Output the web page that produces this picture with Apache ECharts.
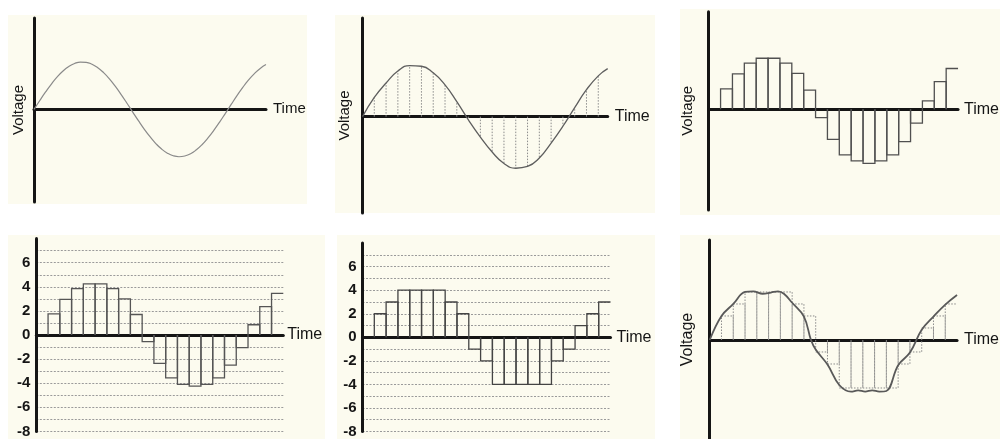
<!DOCTYPE html>
<html><head><meta charset="utf-8">
<script src="https://cdn.jsdelivr.net/npm/echarts@6/dist/echarts.min.js"></script>
<style>html,body{margin:0;padding:0;background:#fff}#c{width:1000px;height:439px}</style>
</head><body><div id="c"></div>
<script>
// ---- Data ----
// Panel 1: continuous analog signal
const p1Time = [0,0.5,1,1.5,2,2.5,3,3.5,4,4.5,5,5.5,6,6.5,7,7.5,8,8.5,9,9.5,10,10.5,11,11.5,12,12.5,13,13.5,14,14.5,15,15.5,16,16.5,17,17.5,18,18.5,19,19.5,20];
const p1Volt = [0,0.74,1.45,2.11,2.7,3.19,3.57,3.82,3.94,3.92,3.76,3.47,3.06,2.54,1.93,1.25,0.53,-0.21,-0.94,-1.64,-2.28,-2.85,-3.31,-3.65,-3.87,-3.95,-3.89,-3.7,-3.37,-2.93,-2.38,-1.75,-1.06,-0.33,0.41,1.14,1.83,2.45,2.98,3.41,3.73];
// Panel 2: analog signal with sample instants
const p2Time = [0,1,2,3,4,5,6,7,8,9,10,11,12,13,14,15,16,17,18,19,20,20.8];
const p2Volt = [0,1.6,2.8,3.8,4.25,4.2,3.65,2.65,1.25,-0.3,-1.7,-2.95,-3.9,-4.3,-4.15,-3.45,-2.2,-0.8,0.75,2.25,3.4,4.0];
const p2SampleTime = [1,2,3,4,5,6,7,8,9,10,11,12,13,14,15,16,17,18,19,20];
// Sample instants used by the sample-and-hold panels
const sampleTime = [0,1,2,3,4,5,6,7,8,9,10,11,12,13,14,15,16,17,18,19,20];
// Panel 3: sample-and-hold values
const p3Volt = [0,1.7,2.95,3.85,4.25,4.25,3.85,3.0,1.6,-0.7,-2.5,-3.8,-4.3,-4.5,-4.3,-3.8,-2.7,-1.15,0.7,2.3,3.4];
// Panel 4: sample-and-hold values on a voltage grid
const p4Volt = [0,1.75,2.95,3.85,4.25,4.25,3.85,3.0,1.7,-0.55,-2.35,-3.55,-4.1,-4.25,-4.1,-3.55,-2.5,-1.05,0.85,2.35,3.45];
// Panel 5: quantized values
const p5Volt = [0,2,3,4,4,4,4,3,2,-1,-2,-4,-4,-4,-4,-4,-2,-1,1,2,3];
// Panel 6: quantized steps and reconstructed signal
const p6StepVolt = [0,2,3,4,4,4,4,3,2,-1,-2,-4,-4,-4,-4,-4,-2,-1,1,2,3];
const p6CurveTime = [0,1,2,3,3.7,4.5,5.2,5.8,6.3,7,8,8.6,9,10,11,12,12.6,13.2,13.8,14.4,15,16,17,18,19,20,21];
const p6CurveVolt = [0,2.0,3.0,4.0,4.05,3.85,3.95,4.05,3.85,3.1,1.95,0,-0.8,-2.05,-3.75,-4.3,-4.2,-4.3,-4.2,-4.3,-4.25,-2.1,-1.05,0.85,1.95,2.95,3.75];
// Tick labels on the voltage grids
const yTickLabels = ['-8','-6','-4','-2','0','2','4','6'];
const xName = 'Time';
const yName = 'Voltage';

// ---- Helpers ----
const FONT = '"Liberation Sans", Arial, sans-serif';
const INK = '#151515';
const BG = '#fcfbef';

function stepData(times, vals) {
  const n = times.length, d = times[1] - times[0];
  return times.map((t, i) => [t, vals[i], i < n - 1 ? times[i + 1] : t + d, i === n - 1 ? 1 : 0]);
}
function stepRender(stroke, width, dash) {
  return function (params, api) {
    const t = api.value(0), v = api.value(1), tn = api.value(2), last = api.value(3);
    if (v === 0) return;
    const a = api.coord([t, 0]), b = api.coord([t, v]), c = api.coord([tn, v]), d = api.coord([tn, 0]);
    const pts = last ? [a, b, c] : [a, b, c, d];
    return { type: 'polyline', shape: { points: pts },
      style: { fill: null, stroke: stroke, lineWidth: width, lineDash: dash || null } };
  };
}
function stickRender(stroke, width, dash) {
  return function (params, api) {
    const t = api.value(0), v = api.value(1);
    const a = api.coord([t, 0]), b = api.coord([t, v]);
    return { type: 'line', shape: { x1: a[0], y1: a[1], x2: b[0], y2: b[1] },
      style: { stroke: stroke, lineWidth: width, lineDash: dash || null } };
  };
}
function xAx(gi, max, gap, fs) {
  return { type: 'value', gridIndex: gi, min: 0, max: max, name: xName, nameLocation: 'end', nameGap: gap,
    nameTextStyle: { fontFamily: FONT, fontSize: fs, color: INK },
    axisLine: { show: true, onZero: true, lineStyle: { color: INK, width: 3 } },
    axisTick: { show: false }, axisLabel: { show: false }, splitLine: { show: false } };
}
function yAx(gi, min, max, opts) {
  const o = { type: 'value', gridIndex: gi, min: min, max: max,
    axisLine: { show: true, onZero: false, lineStyle: { color: INK, width: 3 } },
    axisTick: { show: false }, axisLabel: { show: false }, splitLine: { show: false } };
  if (opts.name) {
    o.name = yName; o.nameLocation = 'middle'; o.nameRotate = 90; o.nameGap = opts.gap;
    o.nameTextStyle = { fontFamily: FONT, fontSize: opts.fs, color: INK };
  }
  if (opts.grid) {
    o.interval = 1;
    o.axisLabel = { show: true, margin: 6, fontFamily: FONT, fontSize: 15, fontWeight: 'bold', color: INK,
      formatter: v => (yTickLabels.indexOf(String(v)) >= 0 ? String(v) : '') };
    o.splitLine = { show: true, showMaxLine: false, showMinLine: true,
      lineStyle: { color: '#9a9a9a', width: 1, type: [2, 1.5] } };
  }
  return o;
}
function pairs(xs, ys) { return xs.map((x, i) => [x, ys[i]]); }
function lookup(xs, ys, t) { return ys[xs.indexOf(t)]; }

const chart = echarts.init(document.getElementById('c'), null, { renderer: 'canvas' });

const bgRects = [
  [8, 15, 299, 189], [335, 15, 320, 198], [680, 9, 320, 206],
  [8, 235, 317, 204], [337, 235, 318, 204], [680, 235, 320, 204]
].map(r => ({ type: 'rect', z: -100, silent: true, shape: { x: r[0], y: r[1], width: r[2], height: r[3] }, style: { fill: BG } }));

chart.setOption({
  backgroundColor: '#ffffff',
  animation: false,
  graphic: { elements: bgRects },
  grid: [
    { left: 34, top: 18, width: 232, height: 184 },
    { left: 362.5, top: 18, width: 245.2, height: 195 },
    { left: 708.7, top: 11.7, width: 252.6, height: 198.3 },
    { left: 36.3, top: 238.6, width: 247, height: 192.8 },
    { left: 362.5, top: 243.1, width: 248, height: 190.4 },
    { left: 709.7, top: 240, width: 251.6, height: 199 }
  ],
  xAxis: [
    xAx(0, 20, 7, 15), xAx(1, 20.8, 7, 16), xAx(2, 21, 6, 16),
    xAx(3, 21, 4, 16), xAx(4, 21, 6, 16), xAx(5, 21, 7, 16)
  ],
  yAxis: [
    yAx(0, -7.72, 7.61, { name: true, gap: 8, fs: 15 }),
    yAx(1, -8.03, 8.22, { name: true, gap: 10, fs: 15 }),
    yAx(2, -8.39, 8.13, { name: true, gap: 13, fs: 15 }),
    yAx(3, -8, 8, { grid: true }),
    yAx(4, -8, 8, { grid: true }),
    yAx(5, -8.25, 8.33, { name: true, gap: 14, fs: 16 })
  ],
  series: [
    { type: 'line', xAxisIndex: 0, yAxisIndex: 0, data: pairs(p1Time, p1Volt), smooth: true, showSymbol: false,
      lineStyle: { color: '#8a8a8a', width: 1.2 } },
    { type: 'custom', xAxisIndex: 1, yAxisIndex: 1, renderItem: stickRender('#8c8c8c', 1, [1.5, 1.5]),
      data: p2SampleTime.map(t => [t, lookup(p2Time, p2Volt, t)]) },
    { type: 'line', xAxisIndex: 1, yAxisIndex: 1, data: pairs(p2Time, p2Volt), smooth: true, showSymbol: false,
      lineStyle: { color: '#5e5e5e', width: 1.3 } },
    { type: 'custom', xAxisIndex: 2, yAxisIndex: 2, renderItem: stepRender('#505050', 1.3),
      data: stepData(sampleTime, p3Volt), encode: { x: [0, 2], y: 1 } },
    { type: 'custom', xAxisIndex: 3, yAxisIndex: 3, renderItem: stepRender('#555555', 1.3),
      data: stepData(sampleTime, p4Volt), encode: { x: [0, 2], y: 1 } },
    { type: 'custom', xAxisIndex: 4, yAxisIndex: 4, renderItem: stepRender('#444444', 1.3),
      data: stepData(sampleTime, p5Volt), encode: { x: [0, 2], y: 1 } },
    { type: 'custom', xAxisIndex: 5, yAxisIndex: 5, renderItem: stepRender('#8a8a8a', 1, [1.5, 1.5]),
      data: stepData(sampleTime, p6StepVolt), encode: { x: [0, 2], y: 1 } },
    { type: 'line', xAxisIndex: 5, yAxisIndex: 5, data: pairs(p6CurveTime, p6CurveVolt), smooth: 0.4, showSymbol: false,
      lineStyle: { color: '#595959', width: 1.8 } }
  ]
});
</script></body></html>
